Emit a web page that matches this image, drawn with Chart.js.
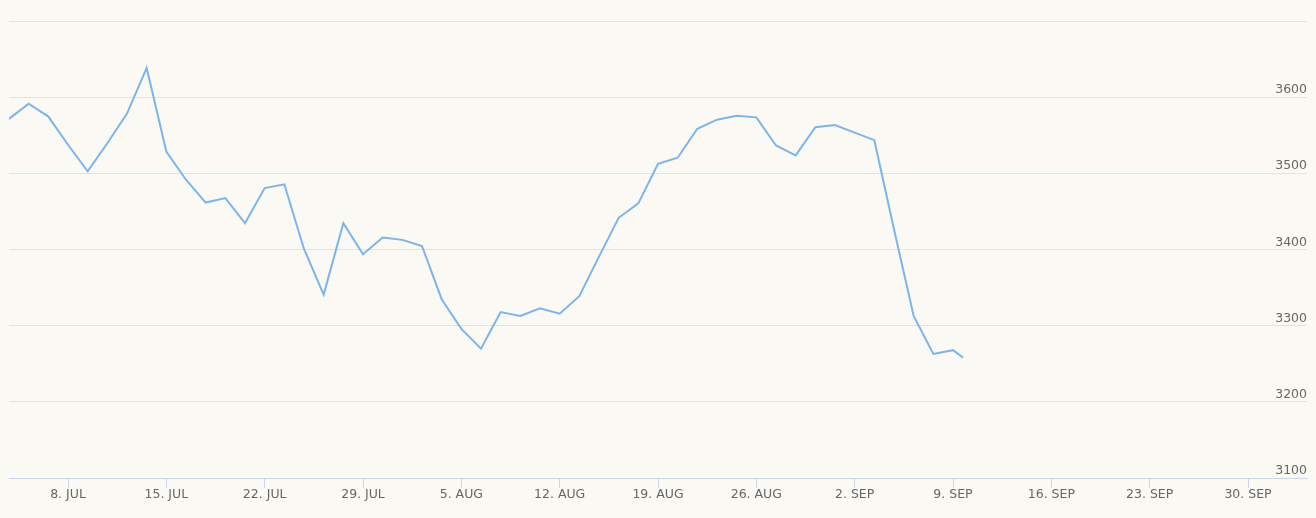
<!DOCTYPE html>
<html>
<head>
<meta charset="utf-8">
<script src="https://cdn.jsdelivr.net/npm/chart.js@4"></script>
<style>
    html, body { margin: 0; padding: 0; background: #faf9f3; }
    #wrap { width: 1316px; height: 518px; position: relative; }
</style>
</head>
<body>
<div id="wrap"><canvas id="myChart"></canvas></div>
<script>
// Días de cotización (eje ordinal: un punto por sesión, el último es intradía)
const tradingDays = [
    0, 1, 2, 3, 4, 5, 6, 7, 8, 9,
    10, 11, 12, 13, 14, 15, 16, 17, 18, 19,
    20, 21, 22, 23, 24, 25, 26, 27, 28, 29,
    30, 31, 32, 33, 34, 35, 36, 37, 38, 39,
    40, 41, 42, 43, 44, 45, 46, 47, 48, 48.52
];

// Precio de cierre
const prices = [
    3572, 3592, 3575, 3538, 3503, 3540, 3579, 3639, 3529, 3492,
    3462, 3468, 3435, 3481, 3486, 3401, 3341, 3435, 3394, 3416,
    3413, 3405, 3335, 3296, 3270, 3318, 3313, 3323, 3316, 3339,
    3391, 3442, 3461, 3513, 3521, 3559, 3571, 3576, 3574, 3537,
    3524, 3561, 3564, 3554, 3544, 3427, 3313, 3263, 3268, 3258
];

// Etiquetas semanales (cada lunes)
const weekLabels = [
    '8. JUL', '15. JUL', '22. JUL', '29. JUL', '5. AUG', '12. AUG', '19. AUG',
    '26. AUG', '2. SEP', '9. SEP', '16. SEP', '23. SEP', '30. SEP'
];

const firstMonday = 3;   // índice de la sesión del 8 de julio
const daysPerWeek = 5;

Chart.defaults.font.family = 'DejaVu Sans';
Chart.defaults.font.size = 12.5;
Chart.defaults.color = '#666666';

const ctx = document.getElementById('myChart').getContext('2d');

const myChart = new Chart(ctx, {
    type: 'line',
    data: {
        datasets: [{
            data: tradingDays.map((d, i) => ({ x: d, y: prices[i] })),
            borderColor: '#7cb5ec',
            borderWidth: 2,
            pointRadius: 0,
            tension: 0,
            fill: false
        }]
    },
    options: {
        responsive: true,
        maintainAspectRatio: false,
        animation: false,
        events: [],
        layout: { padding: { top: 21.5, right: 9, left: 9, bottom: 17 } },
        plugins: {
            legend: { display: false },
            tooltip: { enabled: false }
        },
        scales: {
            x: {
                type: 'linear',
                min: 0,
                max: 66,
                afterBuildTicks: (scale) => {
                    scale.ticks = weekLabels.map((_, k) => ({ value: firstMonday + k * daysPerWeek }));
                },
                grid: {
                    drawOnChartArea: false,
                    drawTicks: true,
                    tickLength: 10,
                    color: '#ccd6eb'
                },
                border: { color: '#ccd6eb' },
                ticks: {
                    autoSkip: false,
                    maxRotation: 0,
                    padding: -1,
                    callback: (value) => weekLabels[(value - firstMonday) / daysPerWeek]
                }
            },
            y: {
                position: 'right',
                min: 3100,
                max: 3700,
                grid: {
                    color: '#e3e3e3',
                    drawTicks: false
                },
                border: { display: false },
                ticks: {
                    stepSize: 100,
                    mirror: true,
                    padding: 0,
                    labelOffset: -7.5,
                    callback: (value) => value === 3700 ? '' : value
                }
            }
        }
    }
});
</script>
</body>
</html>
